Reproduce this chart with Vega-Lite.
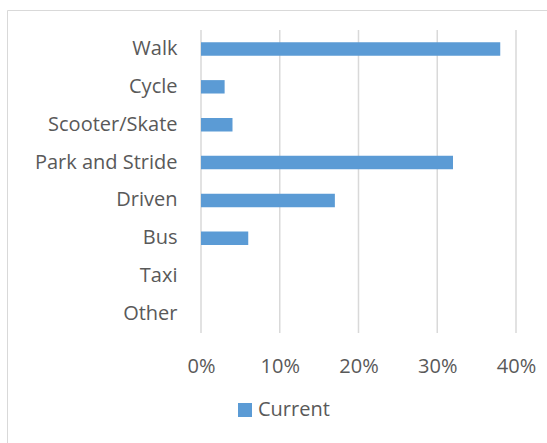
{
  "$schema": "https://vega.github.io/schema/vega-lite/v6.json",
  "width": 542,
  "height": 450,
  "autosize": {"type": "none"},
  "padding": {"left": 7, "top": 10, "right": 0, "bottom": 0},
  "background": "white",
  "config": {"view": {"stroke": "#D9D9D9", "strokeWidth": 1}, "font": "Open Sans"},
  "datasets": {
    "modes": [
      {"mode": "Walk", "share": 0.38, "series": "Current"},
      {"mode": "Cycle", "share": 0.03, "series": "Current"},
      {"mode": "Scooter/Skate", "share": 0.04, "series": "Current"},
      {"mode": "Park and Stride", "share": 0.32, "series": "Current"},
      {"mode": "Driven", "share": 0.17, "series": "Current"},
      {"mode": "Bus", "share": 0.06, "series": "Current"},
      {"mode": "Taxi", "share": 0, "series": "Current"},
      {"mode": "Other", "share": 0, "series": "Current"}
    ],
    "grid": [
      {"tick": 0}, {"tick": 0.1}, {"tick": 0.2}, {"tick": 0.3}, {"tick": 0.4}
    ]
  },
  "layer": [
    {
      "data": {"name": "grid"},
      "mark": {"type": "rule", "color": "#D9D9D9", "strokeWidth": 1.5},
      "encoding": {
        "x": {"field": "tick", "type": "quantitative"},
        "y": {"datum": 1, "type": "quantitative", "scale": {"domain": [0, 1], "range": [323, 20], "nice": false, "zero": false}, "axis": null},
        "y2": {"datum": 0}
      }
    },
    {
      "data": {"name": "modes"},
      "mark": {"type": "bar", "color": "#5B9BD5"},
      "encoding": {
        "y": {
          "field": "mode", "type": "nominal", "sort": null,
          "scale": {"paddingInner": 0.646, "paddingOuter": 0.323, "range": [20, 323], "round": false},
          "axis": {"title": null, "ticks": false, "domain": false, "offset": -194, "labelFont": "Open Sans", "labelFontSize": 20, "labelColor": "#595959", "labelPadding": 24}
        },
        "x": {
          "field": "share", "type": "quantitative",
          "scale": {"domain": [-0.246349, 0.441905], "nice": false, "zero": false},
          "axis": {"title": null, "values": [0, 0.1, 0.2, 0.3, 0.4], "format": ".0%", "ticks": false, "tickSize": 0, "domain": false, "grid": false, "offset": -127, "labelFont": "Open Sans", "labelFontSize": 20, "labelColor": "#595959", "labelBaseline": "alphabetic", "labelPadding": 39}
        },
        "color": {
          "field": "series", "type": "nominal",
          "scale": {"range": ["#5B9BD5"]},
          "legend": {"title": null, "orient": "none", "legendX": 228, "legendY": 390, "padding": 0, "symbolType": "square", "symbolSize": 196, "symbolStrokeWidth": 0, "labelFont": "Open Sans", "labelFontSize": 20, "labelColor": "#595959", "labelOffset": 3}
        }
      }
    }
  ],
  "resolve": {"scale": {"y": "independent"}}
}
